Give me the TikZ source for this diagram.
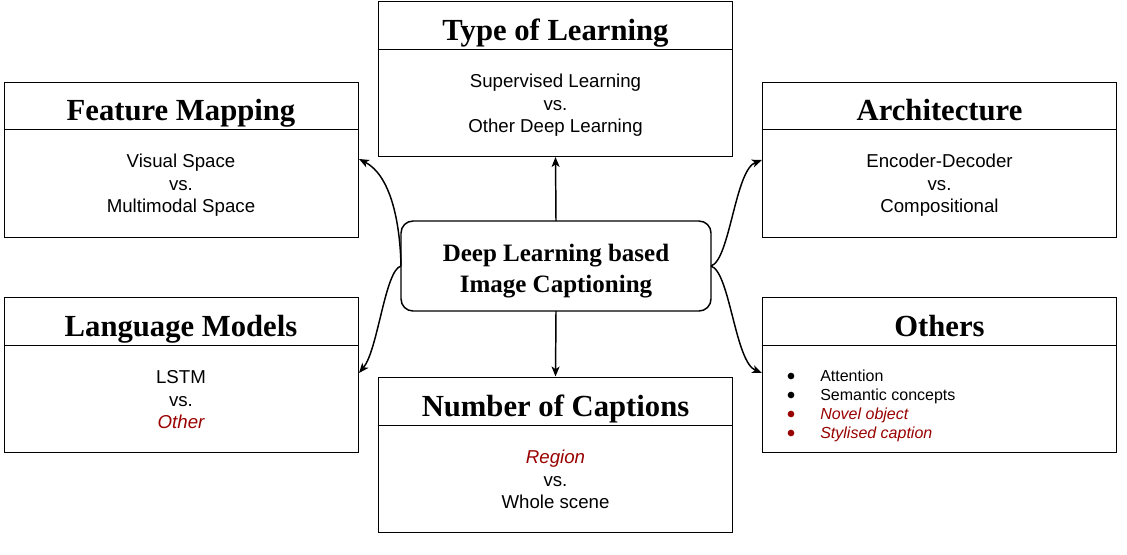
\documentclass[tikz,border=0pt]{standalone}
\usepackage{fontspec}
\setmainfont{Liberation Serif}
\newfontfamily\arialf{Liberation Sans}
\usetikzlibrary{arrows.meta}
\definecolor{dred}{HTML}{990000}
\tikzset{
  box/.style={draw=black, line width=0.75pt, minimum width=265.5pt, minimum height=116.25pt, inner sep=0pt},
  divline/.style={draw=black, line width=0.75pt},
  ttl/.style={font=\bfseries\fontsize{23}{27}\selectfont, inner sep=0pt, anchor=base},
  body/.style={font=\arialf\fontsize{14}{16.9}\selectfont, inner sep=0pt, anchor=base},
  redit/.style={text=dred, font=\arialf\itshape\fontsize{14}{16.9}\selectfont},
  litem/.style={font=\arialf\fontsize{12}{14.25}\selectfont, anchor=base west, inner sep=0pt},
  litemred/.style={litem, text=dred, font=\arialf\itshape\fontsize{12}{14.25}\selectfont},
  bul/.style={circle, fill=#1, inner sep=0pt, minimum size=5pt},
  cbox/.style={draw=black, line width=1.1pt, rounded corners=9pt, minimum width=232.5pt, minimum height=67.5pt, inner sep=0pt, outer sep=0pt},
  ctext/.style={font=\bfseries\fontsize{18.75}{23.25}\selectfont, inner sep=0pt, anchor=base},
  conn/.style={draw=black, line width=1.1pt, -{Stealth[length=7.5pt,width=6pt,inset=2pt]}}
}
\begin{document}
\begin{tikzpicture}[x=0.75pt,y=-0.75pt]
\useasboundingbox[fill=white] (0,0) rectangle (1127,554);

% Type of Learning
\node[box] (tl) at (555.5,79) {};
\draw[divline] (379,49) -- (732,49);
\node[ttl] (tlt) at (555.5,40.5) {Type of Learning};
\node[body] (tl1) at (555.5,87.5) {Supervised Learning};
\node[body] (tl2) at (555.5,110) {vs.};
\node[body] (tl3) at (555.5,132.5) {Other Deep Learning};

% Feature Mapping
\node[box] (fm) at (181,159.5) {};
\draw[divline] (4,129) -- (358,129);
\node[ttl] (fmt) at (181,120.5) {Feature Mapping};
\node[body] (fm1) at (181,167.5) {Visual Space};
\node[body] (fm2) at (181,190) {vs.};
\node[body] (fm3) at (181,212.5) {Multimodal Space};

% Architecture
\node[box] (ar) at (939.5,159.5) {};
\draw[divline] (763,129) -- (1116,129);
\node[ttl] (art) at (939.5,120.5) {Architecture};
\node[body] (ar1) at (939.5,167.5) {Encoder-Decoder};
\node[body] (ar2) at (939.5,190) {vs.};
\node[body] (ar3) at (939.5,212.5) {Compositional};

% Language Models
\node[box] (lm) at (181,375) {};
\draw[divline] (4,345) -- (358,345);
\node[ttl] (lmt) at (181,336.5) {Language Models};
\node[body] (lm1) at (181,383.5) {LSTM};
\node[body] (lm2) at (181,406) {vs.};
\node[body, redit] (lm3) at (181,428.5) {Other};

% Others
\node[box] (ot) at (939.5,375) {};
\draw[divline] (763,345) -- (1116,345);
\node[ttl] (ott) at (939.5,336.5) {Others};
\node[bul=black] (b1) at (791,376) {};
\node[bul=black] (b2) at (791,395) {};
\node[bul=dred] (b3) at (791,414) {};
\node[bul=dred] (b4) at (791,433) {};
\node[litem] (l1) at (820,381) {Attention};
\node[litem] (l2) at (820,400) {Semantic concepts};
\node[litemred] (l3) at (820,419) {Novel object};
\node[litemred] (l4) at (820,438) {Stylised caption};

% Number of Captions
\node[box] (nc) at (555.5,454.5) {};
\draw[divline] (379,425) -- (732,425);
\node[ttl] (nct) at (555.5,416.5) {Number of Captions};
\node[body, redit] (nc1) at (555.5,463.5) {Region};
\node[body] (nc2) at (555.5,486) {vs.};
\node[body] (nc3) at (555.5,508.5) {Whole scene};

% Center
\node[cbox] (c) at (556,266) {};
\node[ctext] (c1) at (556,261) {Deep Learning based};
\node[ctext] (c2) at (556,292) {Image Captioning};

% connectors
\coordinate (fmE) at (359,159);
\coordinate (lmE) at (359,373);
\coordinate (arW) at (762,160);
\coordinate (otW) at (762,373);
\draw[conn] (c.north) -- (tl.south);
\draw[conn] (c.south) -- (nc.north);
\draw[conn] (c.west) .. controls (400,220) and (390,175) .. (fmE);
\draw[conn] (c.west) .. controls (385,270) and (378,350) .. (lmE);
\draw[conn] (c.east) .. controls (730,260) and (735,170) .. (arW);
\draw[conn] (c.east) .. controls (730,272) and (735,362) .. (otW);
\end{tikzpicture}
\end{document}
